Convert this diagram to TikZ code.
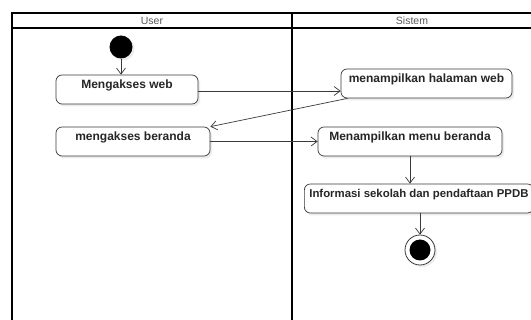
\documentclass[tikz,border=0pt]{standalone}
\usepackage{fontspec}
\setmainfont{Liberation Sans}
\usetikzlibrary{arrows.meta,shadows,calc}
\definecolor{lineg}{HTML}{3A3A3A}
\tikzset{
  act/.style={draw=lineg, line width=0.7pt, rounded corners=6pt, fill=white,
    inner xsep=5pt, inner ysep=0pt, text height=14pt, text depth=15pt,
    font=\fontsize{12}{14}\selectfont\bfseries, text=black!85,
    drop shadow={opacity=0.15, shadow xshift=2pt, shadow yshift=-2.5pt}},
  arr/.style={draw=lineg, line width=0.7pt, -{Straight Barb[length=6pt,width=9pt]}},
  lane/.style={draw=black, line width=1.6pt},
  head/.style={font=\fontsize{10.5}{12}\selectfont, text=black!65, inner sep=0pt}
}
\begin{document}
\begin{tikzpicture}[x=1pt,y=-1pt]
\useasboundingbox (0,0) rectangle (531,320);
\clip (0,0) rectangle (531,320);
\fill[white] (0,0) rectangle (531,320);
% swimlanes
\draw[lane] (12,340) -- (12,13) -- (545,13);
\draw[lane] (12,28) -- (545,28);
\draw[lane] (292,13) -- (292,340);
\node[head] (hu) at (152,20.5) {User};
\node[head] (hs) at (412,20.5) {Sistem};
% start
\node[circle, fill=black, minimum size=23pt, inner sep=0pt,
  drop shadow={opacity=0.15, shadow xshift=2pt, shadow yshift=-2pt}] (start) at (121,47) {};
% activities
\node[act, minimum width=142pt] (a) at (127,89.5) {Mengakses web};
\node[act, minimum width=171pt] (b) at (426.5,83.5) {menampilkan halaman web};
\node[act, minimum width=154pt] (c) at (133,141.5) {mengakses beranda};
\node[act, minimum width=184pt] (d) at (410,141.5) {Menampilkan menu beranda};
\node[act, anchor=west, font=\fontsize{11.4}{13}\selectfont\bfseries] (e) at (304,198.5) {Informasi sekolah dan pendaftaan PPDB};
% end
\node[circle, draw=lineg, line width=0.8pt, fill=white, minimum size=30pt, inner sep=0pt,
  drop shadow={opacity=0.15, shadow xshift=2pt, shadow yshift=-2pt}] (end) at (420,250) {};
\node[circle, fill=black, minimum size=21pt, inner sep=0pt] (endin) at (end.center) {};
% flows
\draw[arr] (start) -- (start |- a.north);
\draw[arr] ([yshift=-1.5pt]a.east) -- ([yshift=-1.5pt]a.east -| b.west);
\draw[arr] ([xshift=7pt]b.south west) -- (c.north east);
\draw[arr] (c.east) -- (d.west);
\draw[arr] (d.south) -- (d.south |- e.north);
\draw[arr] (end.north |- e.south) -- (end.north);
\end{tikzpicture}
\end{document}
